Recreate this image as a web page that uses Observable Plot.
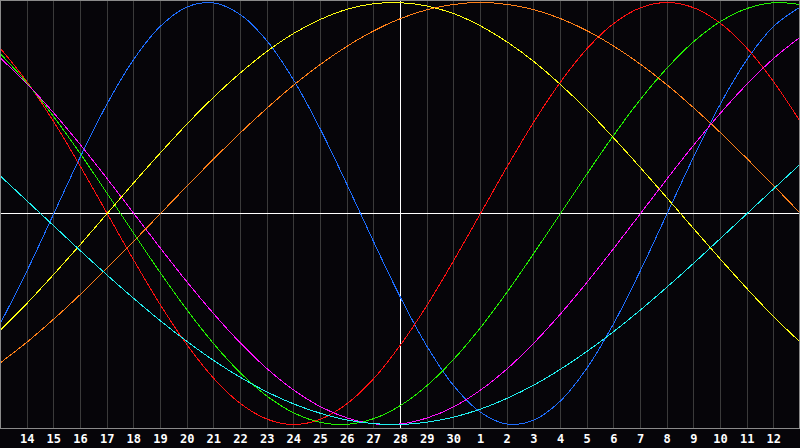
<!DOCTYPE html>
<html>
<head>
<meta charset="utf-8">
<script src="https://cdn.jsdelivr.net/npm/d3@7"></script>
<script src="https://cdn.jsdelivr.net/npm/@observablehq/plot@0.6"></script>
<style>
  html, body { margin: 0; padding: 0; background: #060509; }
  #chart svg { display: block; }
</style>
</head>
<body>
<div id="chart"></div>
<script>
// Day labels: left edge (index 0) is the 13th, "today" (index 15) is the 28th
const dates = [13,14,15,16,17,18,19,20,21,22,23,24,25,26,27,28,29,30,1,2,3,4,5,6,7,8,9,10,11,12,13];
const dayIndex = [0,1,2,3,4,5,6,7,8,9,10,11,12,13,14,15,16,17,18,19,20,21,22,23,24,25,26,27,28,29,30];
const gridDays = [1,2,3,4,5,6,7,8,9,10,11,12,13,14,15,16,17,18,19,20,21,22,23,24,25,26,27,28,29];
const todayIndex = [15];

// Cycle values (one per day, -1..1)
const physical     = [-0.520,-0.270,0,0.270,0.520,0.731,0.888,0.979,0.998,0.942,0.817,0.631,0.398,0.136,-0.136,-0.398,-0.631,-0.817,-0.942,-0.998,-0.979,-0.888,-0.731,-0.520,-0.270,0,0.270,0.520,0.731,0.888,0.979];
const emotional    = [0.782,0.623,0.434,0.222,0,-0.222,-0.434,-0.623,-0.782,-0.901,-0.975,-1,-0.975,-0.901,-0.782,-0.623,-0.434,-0.222,0,0.222,0.434,0.623,0.782,0.901,0.975,1,0.975,0.901,0.782,0.623,0.434];
const intellectual = [0.756,0.618,0.458,0.282,0.095,-0.095,-0.282,-0.458,-0.618,-0.756,-0.866,-0.945,-0.990,-0.999,-0.972,-0.910,-0.815,-0.690,-0.541,-0.372,-0.189,0,0.189,0.372,0.541,0.690,0.815,0.910,0.972,0.999,0.990];
const intuitive    = [0.736,0.614,0.476,0.325,0.165,0,-0.165,-0.325,-0.476,-0.614,-0.736,-0.837,-0.916,-0.969,-0.997,-0.997,-0.969,-0.916,-0.837,-0.736,-0.614,-0.476,-0.325,-0.165,0,0.165,0.325,0.476,0.614,0.736,0.837];
const aesthetic    = [-0.552,-0.425,-0.288,-0.146,0,0.146,0.288,0.425,0.552,0.667,0.769,0.854,0.920,0.968,0.994,0.999,0.983,0.947,0.889,0.813,0.720,0.611,0.490,0.357,0.217,0.073,-0.073,-0.217,-0.357,-0.490,-0.611];
const awareness    = [-0.707,-0.609,-0.5,-0.383,-0.259,-0.131,0,0.131,0.259,0.383,0.5,0.609,0.707,0.793,0.866,0.924,0.966,0.991,1,0.991,0.966,0.924,0.866,0.793,0.707,0.609,0.5,0.383,0.259,0.131,0];
const spiritual    = [0.177,0.059,-0.059,-0.177,-0.292,-0.403,-0.509,-0.607,-0.697,-0.777,-0.846,-0.903,-0.947,-0.979,-0.996,-1.000,-0.989,-0.965,-0.927,-0.876,-0.813,-0.738,-0.653,-0.559,-0.457,-0.348,-0.235,-0.118,0,0.118,0.235];

const seriesNames  = ["Physical","Emotional","Intellectual","Intuitive","Aesthetic","Awareness","Spiritual"];
const seriesValues = [physical, emotional, intellectual, intuitive, aesthetic, awareness, spiritual];
const seriesColors = ["#1e6eff","#ff1010","#22f000","#ff10ff","#ffff10","#ff8018","#20f0f0"];

const lineMarks = seriesNames.map((name, k) =>
  Plot.line(dayIndex.map((i) => ({i, v: seriesValues[k][i], s: name})), {
    x: "i", y: "v", stroke: seriesColors[k], strokeWidth: 1, curve: "catmull-rom",
    shapeRendering: "crispEdges"
  })
);

const chart = Plot.plot({
  width: 800,
  height: 448,
  marginTop: 0,
  marginLeft: 0,
  marginRight: 0,
  marginBottom: 20,
  style: {background: "#060509", color: "white", fontFamily: "'DejaVu Sans Mono', monospace"},
  x: {domain: [0, 30], axis: null, label: null},
  y: {domain: [-1.019, 1.0095], axis: null, label: null},
  marks: [
    Plot.ruleX(gridDays, {stroke: "#3a3a3a", strokeWidth: 1, shapeRendering: "crispEdges"}),
    Plot.ruleY([0], {stroke: "white", strokeWidth: 1, shapeRendering: "crispEdges"}),
    Plot.ruleX(todayIndex, {stroke: "white", strokeWidth: 1, shapeRendering: "crispEdges"}),
    ...lineMarks,
    Plot.frame({stroke: "#8a8a8a", shapeRendering: "crispEdges"}),
    Plot.ruleX([30], {stroke: "#8a8a8a", dx: -1, shapeRendering: "crispEdges"}),
    Plot.axisX(gridDays, {
      label: null,
      tickSize: 0, tickPadding: 6,
      tickFormat: (i) => String(dates[i]),
      fill: "white", fontWeight: "bold", fontSize: 12
    })
  ]
});
document.getElementById("chart").appendChild(chart);
</script>
</body>
</html>
